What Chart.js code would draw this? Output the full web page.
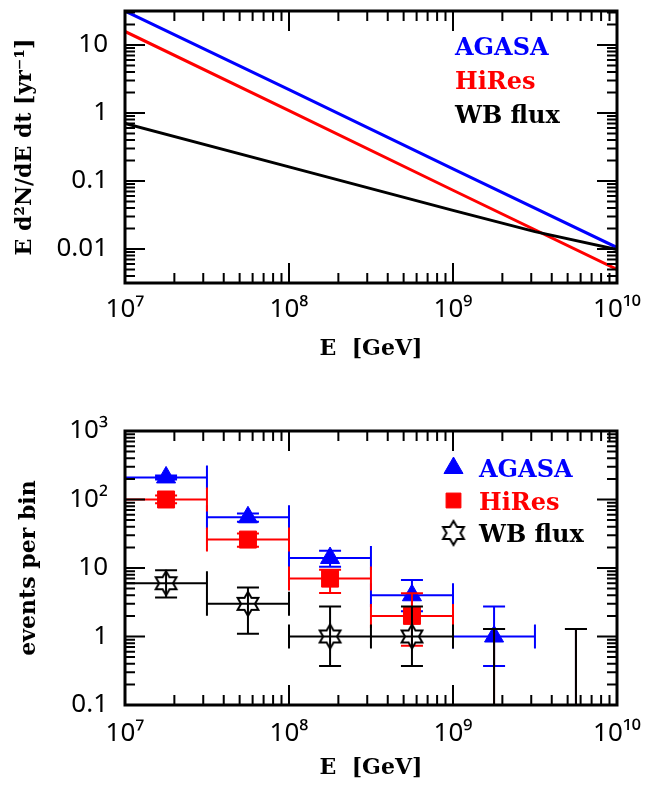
<!DOCTYPE html>
<html>
<head>
<meta charset="utf-8">
<script src="https://cdn.jsdelivr.net/npm/chart.js@4.4.0/dist/chart.umd.min.js"></script>
<style>
  body { margin: 0; background: #fff; }
  canvas { position: absolute; left: 0; }
  #rate { top: 0; }
  #events { top: 395px; }
</style>
</head>
<body>
<canvas id="rate" width="664" height="372"></canvas>
<canvas id="events" width="664" height="390"></canvas>
<script>
// --- upper panel: event rate per energy decade
const lineEnergy = [1e7, 1e8, 1e9, 1e10];
const agasaRate = [31.6, 2.2, 0.151, 0.0105];
const hiresRate = [15.8, 1.08, 0.073, 0.0050];
const wbEnergy = [1e7, 1e8, 1e9, 3.16e9, 1e10];
const wbRate = [0.70, 0.161, 0.037, 0.018, 0.0098];

// --- lower panel: expected events per half-decade bin
const binCenter = [1.78e7, 5.62e7, 1.78e8, 5.62e8, 1.78e9, 5.62e9];
const binLow = [1e7, 3.16e7, 1e8, 3.16e8, 1e9, 3.16e9];
const binHigh = [3.16e7, 1e8, 3.16e8, 1e9, 3.16e9, 1e10];

const agasaEvents = [210, 55, 14, 4, 1, 0];
const agasaLow = [196, 47.5, 10.4, 2.33, 0.37, 0];
const agasaHigh = [225, 62.5, 17.9, 6.7, 2.75, 1.29];

const hiresEvents = [100, 26, 7, 2, 0, 0];
const hiresLow = [88, 20.5, 4.3, 0.73, 0, 0];
const hiresHigh = [114, 32, 9.4, 4.27, 1.29, 1.29];

const wbEvents = [6, 3, 1, 1, 0, 0];
const wbLow = [3.7, 1.1, 0.37, 0.37, 0, 0];
const wbHigh = [9.3, 5.2, 2.75, 2.75, 1.29, 1.29];

// --- tick labels
const xTickValues = [1e7, 1e8, 1e9, 1e10];
const xTickLabels = ['10\u2077', '10\u2078', '10\u2079', '10\u00b9\u2070'];
const rateTickValues = [0.01, 0.1, 1, 10];
const rateTickLabels = ['0.01', '0.1', '1', '10'];
const eventTickValues = [0.1, 1, 10, 100, 1000];
const eventTickLabels = ['0.1', '1', '10', '10\u00b2', '10\u00b3'];

const BLUE = '#0000ff', RED = '#ff0000', BLACK = '#000000';
const tickFont = { family: 'Noto Sans', size: 26 };
const titleFont = { family: 'DejaVu Serif', size: 22, weight: 'bold' };
const legendFont = 'bold 24px "DejaVu Serif"';

Chart.defaults.color = '#000';

// open six-pointed star used as marker
function openStar(r) {
  const c = document.createElement('canvas');
  const s = 2 * r + 4;
  c.width = c.height = s;
  const g = c.getContext('2d');
  g.beginPath();
  for (let k = 0; k < 12; k++) {
    const a = k * Math.PI / 6;
    const rr = k % 2 ? r * 0.58 : r;
    g.lineTo(s / 2 + rr * Math.sin(a), s / 2 - rr * Math.cos(a));
  }
  g.closePath();
  g.lineWidth = 2;
  g.strokeStyle = BLACK;
  g.stroke();
  return c;
}
const starMarker = openStar(12);

function logTicks(scale) {
  const out = [];
  for (let d = Math.floor(Math.log10(scale.min)); d <= Math.ceil(Math.log10(scale.max)); d++) {
    for (let m = 1; m <= 9; m++) {
      const v = m * Math.pow(10, d);
      if (v >= scale.min * 0.999 && v <= scale.max * 1.001) out.push({ v, major: m === 1 });
    }
  }
  return out;
}

// box with inward ticks on all four sides
const frame = {
  id: 'frame',
  afterDatasetsDraw(chart) {
    const { ctx, chartArea: a, scales: { x, y } } = chart;
    ctx.save();
    ctx.strokeStyle = BLACK;
    ctx.lineWidth = 2;
    ctx.beginPath();
    logTicks(x).forEach(t => {
      const px = x.getPixelForValue(t.v);
      const len = t.major ? 20 : 10;
      ctx.moveTo(px, a.bottom); ctx.lineTo(px, a.bottom - len);
      ctx.moveTo(px, a.top); ctx.lineTo(px, a.top + len);
    });
    logTicks(y).forEach(t => {
      const py = y.getPixelForValue(t.v);
      const len = t.major ? 20 : 10;
      ctx.moveTo(a.left, py); ctx.lineTo(a.left + len, py);
      ctx.moveTo(a.right, py); ctx.lineTo(a.right - len, py);
    });
    ctx.stroke();
    ctx.lineWidth = 3;
    ctx.strokeRect(a.left, a.top, a.right - a.left, a.bottom - a.top);
    ctx.restore();
  }
};

// bin-width and count error bars, drawn just before each dataset's markers
const errorBars = {
  id: 'errorBars',
  beforeDatasetDraw(chart, args) {
    const bars = chart.data.datasets[args.index].errorBars;
    if (!bars) return;
    const { ctx, chartArea: a, scales: { x, y } } = chart;
    ctx.save();
    ctx.beginPath();
    ctx.rect(a.left, a.top, a.right - a.left, a.bottom - a.top);
    ctx.clip();
    ctx.strokeStyle = bars.color;
    ctx.lineWidth = 2;
    ctx.beginPath();
    bars.value.forEach((v, i) => {
      const xc = x.getPixelForValue(binCenter[i]);
      const yTop = y.getPixelForValue(bars.high[i]);
      const yBot = bars.low[i] > 0 ? y.getPixelForValue(bars.low[i]) : a.bottom + 2;
      ctx.moveTo(xc, yTop); ctx.lineTo(xc, yBot);
      ctx.moveTo(xc - 11, yTop); ctx.lineTo(xc + 11, yTop);
      if (bars.low[i] > 0) { ctx.moveTo(xc - 11, yBot); ctx.lineTo(xc + 11, yBot); }
      if (v > 0) {
        const yc = y.getPixelForValue(v);
        const x0 = x.getPixelForValue(binLow[i]);
        const x1 = x.getPixelForValue(binHigh[i]);
        ctx.moveTo(x0, yc); ctx.lineTo(x1, yc);
        ctx.moveTo(x0, yc - 12); ctx.lineTo(x0, yc + 12);
        ctx.moveTo(x1, yc - 12); ctx.lineTo(x1, yc + 12);
      }
    });
    ctx.stroke();
    ctx.restore();
  }
};

// coloured labels placed inside the plot box
const textLegend = {
  id: 'textLegend',
  afterDraw(chart, args, opts) {
    const { ctx, chartArea: a } = chart;
    ctx.save();
    ctx.font = legendFont;
    ctx.textBaseline = 'alphabetic';
    chart.data.datasets.forEach((ds, i) => {
      const base = a.top + opts.top + i * opts.spacing;
      if (opts.markers) {
        ctx.fillStyle = ds.backgroundColor;
        ctx.strokeStyle = ds.borderColor;
        ctx.lineWidth = 1;
        Chart.helpers.drawPoint(ctx, {
          pointStyle: ds.pointStyle, radius: ds.legendRadius, rotation: 0, borderWidth: 1
        }, a.left + opts.markerX, base - 9);
      }
      ctx.fillStyle = ds.borderColor;
      ctx.fillText(ds.label, a.left + opts.textX, base);
    });
    ctx.restore();
  }
};

function logAxis(min, max, values, labels, opts) {
  return {
    type: 'logarithmic',
    min, max,
    grid: { display: false, drawTicks: false },
    border: { display: false },
    afterBuildTicks: s => { s.ticks = values.map(v => ({ value: v })); },
    ticks: {
      font: tickFont, color: '#000', padding: opts.padding,
      autoSkip: false, maxRotation: 0,
      callback: (v, i) => labels[i]
    },
    title: { display: true, text: opts.title, font: titleFont, color: '#000', padding: opts.titlePadding },
    afterFit: s => {
      if (opts.width) s.width = opts.width;
      if (opts.height) s.height = opts.height;
      s.paddingTop = s.paddingBottom = s.paddingLeft = s.paddingRight = 0;
    }
  };
}

// later series are drawn on top, as in the legend order
new Chart(document.getElementById('rate'), {
  type: 'line',
  data: {
    datasets: [
      { label: 'AGASA', order: 3, data: lineEnergy.map((e, i) => ({ x: e, y: agasaRate[i] })), borderColor: BLUE, borderWidth: 3, pointRadius: 0 },
      { label: 'HiRes', order: 2, data: lineEnergy.map((e, i) => ({ x: e, y: hiresRate[i] })), borderColor: RED, borderWidth: 3, pointRadius: 0 },
      { label: 'WB flux', order: 1, data: wbEnergy.map((e, i) => ({ x: e, y: wbRate[i] })), borderColor: BLACK, borderWidth: 3, pointRadius: 0 }
    ]
  },
  options: {
    responsive: false,
    animation: false,
    layout: { padding: { top: 11, right: 47, left: 0, bottom: 0 } },
    plugins: {
      legend: { display: false },
      tooltip: { enabled: false },
      textLegend: { top: 44, spacing: 34, textX: 330 }
    },
    scales: {
      x: logAxis(1e7, 1e10, xTickValues, xTickLabels, { padding: 11, title: 'E  [GeV]', titlePadding: { bottom: 10 }, height: 89 }),
      y: logAxis(0.00316, 31.6, rateTickValues, rateTickLabels, { padding: 17, title: 'E d\u00b2N/dE dt [yr\u207b\u00b9]', titlePadding: { top: 12 }, width: 125 })
    }
  },
  plugins: [frame, textLegend]
});

const eventSets = [
  { label: 'AGASA', events: agasaEvents, low: agasaLow, high: agasaHigh, color: BLUE, style: 'triangle', radius: 11, legendRadius: 11 },
  { label: 'HiRes', events: hiresEvents, low: hiresLow, high: hiresHigh, color: RED, style: 'rect', radius: 12, legendRadius: 10.5 },
  { label: 'WB flux', events: wbEvents, low: wbLow, high: wbHigh, color: BLACK, style: starMarker, radius: 12, legendRadius: 12 }
];

new Chart(document.getElementById('events'), {
  type: 'scatter',
  data: {
    datasets: eventSets.map((s, k) => ({
      label: s.label,
      order: eventSets.length - k,
      data: binCenter.map((e, i) => ({ x: e, y: s.events[i] > 0 ? s.events[i] : null })),
      pointStyle: s.style,
      pointRadius: s.radius,
      legendRadius: s.legendRadius,
      pointBorderWidth: 1,
      backgroundColor: s.color,
      borderColor: s.color,
      errorBars: { value: s.events, low: s.low, high: s.high, color: s.color }
    }))
  },
  options: {
    responsive: false,
    animation: false,
    clip: false,
    layout: { padding: { top: 36, right: 47, left: 0, bottom: 0 } },
    plugins: {
      legend: { display: false },
      tooltip: { enabled: false },
      textLegend: { top: 46, spacing: 32.5, textX: 354, markerX: 328.5, markers: true }
    },
    scales: {
      x: logAxis(1e7, 1e10, xTickValues, xTickLabels, { padding: 13, title: 'E  [GeV]', titlePadding: { bottom: 4 }, height: 80 }),
      y: logAxis(0.1, 1000, eventTickValues, eventTickLabels, { padding: 17, title: 'events per bin', titlePadding: { top: 16 }, width: 125 })
    }
  },
  plugins: [errorBars, frame, textLegend]
});
</script>
</body>
</html>
